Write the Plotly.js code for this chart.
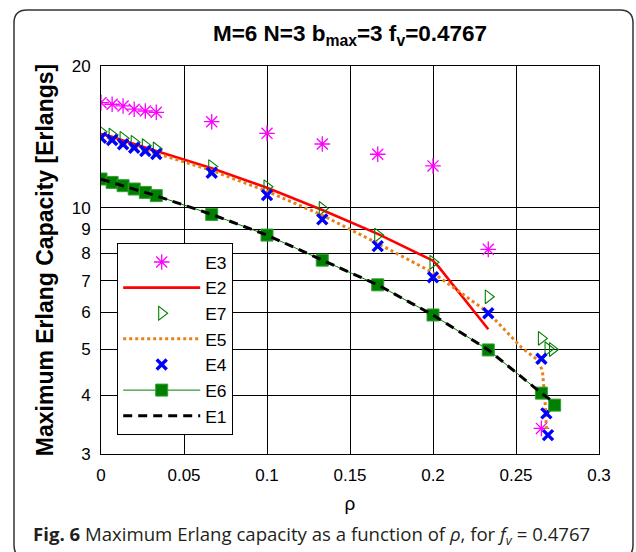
<!DOCTYPE html>
<html>
<head>
<meta charset="utf-8">
<script src="https://cdn.plot.ly/plotly-3.0.1.min.js"></script>
<style>
  html, body { margin: 0; padding: 0; background: #fff; }
  #chart { width: 636px; height: 552px; }
</style>
</head>
<body>
<div id="chart"></div>
<script>
// ---- data ----
const xE3 = [0, 0.0067, 0.0133, 0.02, 0.0267, 0.0333, 0.0667, 0.1, 0.1333, 0.1667, 0.2, 0.2333, 0.2653];
const yE3 = [16.72, 16.59, 16.45, 16.19, 16.05, 15.95, 15.23, 14.39, 13.66, 12.99, 12.27, 8.16, 3.40];

const xE2 = [0, 0.0067, 0.0133, 0.02, 0.0267, 0.0333, 0.0667, 0.1, 0.1333, 0.1667, 0.2, 0.2033, 0.2333];
const yE2 = [14.35, 14.15, 13.9, 13.65, 13.42, 13.2, 12.13, 11.03, 9.89, 8.8, 7.72, 7.5, 5.52];

const xE7 = [0, 0.0067, 0.0133, 0.02, 0.0267, 0.0333, 0.0667, 0.1, 0.1333, 0.1667, 0.2, 0.2333, 0.2653, 0.2693, 0.2720];
const yE7 = [14.5, 14.27, 14.04, 13.77, 13.55, 13.33, 12.23, 11.08, 9.97, 8.75, 7.66, 6.47, 5.28, 5.02, 5.0];

const xE5 = [0, 0.0067, 0.0133, 0.02, 0.0267, 0.0333, 0.0667, 0.1, 0.1333, 0.1667, 0.2, 0.2333, 0.2533, 0.2624, 0.2659, 0.2669, 0.2678, 0.2684];
const yE5 = [14.2, 14.0, 13.75, 13.5, 13.25, 13.05, 12.0, 10.84, 9.64, 8.4, 7.28, 5.99, 5.05, 4.77, 4.52, 4.15, 3.76, 3.34];

const xE4 = [0, 0.0067, 0.0133, 0.02, 0.0267, 0.0333, 0.0667, 0.1, 0.1333, 0.1667, 0.2, 0.2333, 0.2653, 0.2683, 0.2693];
const yE4 = [14.08, 13.93, 13.64, 13.41, 13.2, 13.01, 11.87, 10.64, 9.45, 8.29, 7.12, 5.97, 4.78, 3.66, 3.29];

const xE6 = [0, 0.0067, 0.0133, 0.02, 0.0267, 0.0333, 0.0667, 0.1, 0.1333, 0.1667, 0.2, 0.2333, 0.2653, 0.2733];
const yE6 = [11.51, 11.32, 11.14, 10.96, 10.78, 10.61, 9.68, 8.75, 7.74, 6.86, 5.92, 4.99, 4.04, 3.81];

const xE1 = [0, 0.0333, 0.0667, 0.1, 0.1333, 0.1667, 0.2, 0.2333, 0.2653, 0.2725];
const yE1 = [11.5, 10.6, 9.68, 8.75, 7.74, 6.86, 5.92, 4.99, 4.04, 3.87];

const xTicks = [0, 0.05, 0.1, 0.15, 0.2, 0.25, 0.3];
const xTickText = ['0', '0.05', '0.1', '0.15', '0.2', '0.25', '0.3'];
const yTicks = [3, 4, 5, 6, 7, 8, 9, 10, 20];
const yTickText = ['3', '4', '5', '6', '7', '8', '9', '10', '20'];

// ---- layout helpers ----
const W = 636, H = 552;
const M = {l: 101, r: 37, t: 66, b: 98};
const PW = W - M.l - M.r, PH = H - M.t - M.b;
function px(x) { return (x - M.l) / PW; }
function py(y) { return (H - M.b - y) / PH; }
function roundRectPath(x0, y0, x1, y1, r) {
  const pts = [
    ['M', x0 + r, y0], ['L', x1 - r, y0], ['Q', x1, y0, x1, y0 + r],
    ['L', x1, y1 - r], ['Q', x1, y1, x1 - r, y1], ['L', x0 + r, y1],
    ['Q', x0, y1, x0, y1 - r], ['L', x0, y0 + r], ['Q', x0, y0, x0 + r, y0]
  ];
  return pts.map(p => {
    let s = p[0];
    for (let i = 1; i < p.length; i += 2) s += ' ' + px(p[i]).toFixed(5) + ',' + py(p[i + 1]).toFixed(5);
    return s;
  }).join(' ') + ' Z';
}

const FONT = 'Arial, "Liberation Sans", Helvetica, sans-serif';

const traces = [
  {name: 'E3', x: xE3, y: yE3, mode: 'markers', type: 'scatter',
   marker: {symbol: 'asterisk-open', size: 13, color: '#ff00ff', line: {color: '#ff00ff', width: 1.3}}},
  {name: 'E2', x: xE2, y: yE2, mode: 'lines', type: 'scatter',
   line: {color: '#ff0000', width: 2.6}},
  {name: 'E7', x: xE7, y: yE7, mode: 'markers', type: 'scatter',
   marker: {symbol: 'triangle-right-open', size: 12, color: '#008000', line: {color: '#008000', width: 1.1}}},
  {name: 'E5', x: xE5, y: yE5, mode: 'lines', type: 'scatter',
   line: {color: '#e8801a', width: 3, dash: 'dot'}},
  {name: 'E4', x: xE4, y: yE4, mode: 'markers', type: 'scatter',
   marker: {symbol: 'x-thin-open', size: 10, color: '#0000ff', line: {color: '#0000ff', width: 3.4}}},
  {name: 'E6', x: xE6, y: yE6, mode: 'lines+markers', type: 'scatter',
   line: {color: '#008000', width: 1},
   marker: {symbol: 'square', size: 12, color: '#008000', line: {color: '#33a033', width: 1}}},
  {name: 'E1', x: xE1, y: yE1, mode: 'lines', type: 'scatter',
   line: {color: '#000000', width: 3, dash: '9px,6px'}}
];

const layout = {
  width: W, height: H,
  margin: M,
  paper_bgcolor: '#ffffff',
  plot_bgcolor: '#ffffff',
  showlegend: true,
  font: {family: FONT, color: '#000', size: 17},
  title: {
    text: '<b>M=6 N=3 b<sub>max</sub>=3 f<sub>v</sub>=0.4767</b>',
    font: {family: FONT, size: 22.5, color: '#000'},
    x: 0.5, xref: 'paper', xanchor: 'center',
    y: 1 - 33 / H, yref: 'container', yanchor: 'middle'
  },
  xaxis: {
    type: 'linear', range: [0, 0.3],
    tickvals: xTicks, ticktext: xTickText,
    showgrid: true, gridcolor: '#000', gridwidth: 1,
    zeroline: false, showline: true, linecolor: '#000', linewidth: 1, mirror: true,
    ticks: '', ticklabelstandoff: 6,
    tickfont: {family: FONT, size: 17, color: '#000'},
    title: {text: 'ρ', font: {family: FONT, size: 19, color: '#000'}, standoff: 12}
  },
  yaxis: {
    type: 'log', range: [Math.log10(3), Math.log10(20)],
    tickvals: yTicks, ticktext: yTickText,
    showgrid: true, gridcolor: '#000', gridwidth: 1,
    zeroline: false, showline: true, linecolor: '#000', linewidth: 1, mirror: true,
    ticks: '', ticklabelstandoff: 6,
    tickfont: {family: FONT, size: 17, color: '#000'},
    title: {text: '<b>Maximum Erlang Capacity [Erlangs]</b>', font: {family: FONT, size: 23, color: '#000'}, standoff: 11}
  },
  legend: {
    x: px(117), y: py(243), xanchor: 'left', yanchor: 'top',
    xref: 'paper', yref: 'paper',
    bgcolor: '#ffffff', bordercolor: '#000', borderwidth: 1.2,
    font: {family: FONT, size: 17.4, color: '#000'},
    itemwidth: 77, tracegroupgap: 0, traceorder: 'normal'
  },
  shapes: [
    {type: 'path', xref: 'paper', yref: 'paper', layer: 'above',
     path: roundRectPath(14, 10, 633, 558, 13),
     line: {color: '#333333', width: 1.5}, fillcolor: 'rgba(0,0,0,0)'}
  ],
  annotations: [
    {xref: 'paper', yref: 'paper', x: px(31), y: py(535), xanchor: 'left', yanchor: 'middle',
     showarrow: false,
     text: '<b>Fig. 6</b> Maximum Erlang capacity as a function of <i>ρ</i>, for <i>f</i><sub><i>v</i></sub> = 0.4767',
     font: {family: '"Open Sans", "Noto Sans", sans-serif', size: 18.6, color: '#231f20'}}
  ]
};

Plotly.newPlot('chart', traces, layout, {staticPlot: true, displayModeBar: false});
</script>
</body>
</html>
